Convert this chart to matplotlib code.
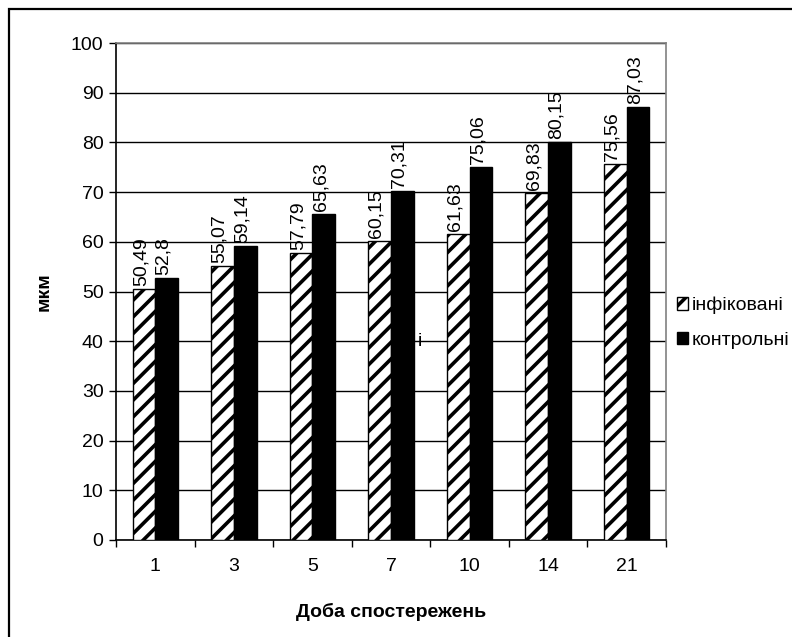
import matplotlib
matplotlib.use("Agg")
import matplotlib.pyplot as plt
import numpy as np
from matplotlib.patches import Rectangle

categories = ["1", "3", "5", "7", "10", "14", "21"]
infected = [50.49, 55.07, 57.79, 60.15, 61.63, 69.83, 75.56]
control = [52.8, 59.14, 65.63, 70.31, 75.06, 80.15, 87.03]
infected_labels = ["50,49", "55,07", "57,79", "60,15", "61,63", "69,83", "75,56"]
control_labels = ["52,8", "59,14", "65,63", "70,31", "75,06", "80,15", "87,03"]
series_names = ["інфіковані", "контрольні"]
y_ticks = list(range(0, 101, 10))

plt.rcParams['font.family'] = ['Liberation Sans', 'DejaVu Sans']
plt.rcParams['hatch.linewidth'] = 2.6

W, H = 792, 637
FS = 14
fig = plt.figure(figsize=(W/100, H/100), dpi=100)
ax = fig.add_axes([116/W, (H-540)/H, 550/W, 497/H])

x = np.arange(len(categories))
bw = 0.29
b1 = ax.bar(x - bw/2, infected, bw, color='white', edgecolor='black',
            hatch='//', linewidth=1.0, zorder=3, label=series_names[0])
b2 = ax.bar(x + bw/2, control, bw, color='black', edgecolor='black',
            linewidth=1.0, zorder=3, label=series_names[1])

for xi, v, s in zip(x - bw/2, infected, infected_labels):
    ax.text(xi - 0.04, v + 0.6, s, rotation=90, ha='center', va='bottom', fontsize=FS)
for xi, v, s in zip(x + bw/2, control, control_labels):
    ax.text(xi - 0.04, v + 0.6, s, rotation=90, ha='center', va='bottom', fontsize=FS)

ax.set_xlim(-0.5, len(categories) - 0.5)
ax.set_ylim(0, 100)
ax.set_yticks(y_ticks)
ax.set_yticklabels([str(t) for t in y_ticks], fontsize=FS)
ax.yaxis.grid(True, color='black', linewidth=1.0, zorder=0)
ax.set_axisbelow(True)

ax.set_xticks(x)
ax.set_xticklabels(categories, fontsize=FS)
ax.set_xticks(np.arange(-0.5, len(categories), 1.0), minor=True)
ax.tick_params(axis='x', which='major', length=0, pad=13)
ax.tick_params(axis='x', which='minor', length=5, width=1, direction='out')
ax.tick_params(axis='y', length=5, width=1, direction='out', pad=4)

for s in ['left', 'bottom']:
    ax.spines[s].set_color('black')
    ax.spines[s].set_linewidth(1.2)
for s in ['top', 'right']:
    ax.spines[s].set_color('#808080')
    ax.spines[s].set_linewidth(1.2)

ax.set_xlabel("Доба спостережень", fontsize=FS, fontweight='bold', labelpad=20)
ax.set_ylabel("мкм", fontsize=FS, fontweight='bold', labelpad=13)

leg = fig.legend(handles=[b1, b2], labels=series_names, loc='upper left',
                 bbox_to_anchor=(669/W, 1 - 289/H), frameon=False, fontsize=14,
                 handlelength=0.6, handleheight=0.6, handletextpad=0.15,
                 labelspacing=0.9, borderaxespad=0)

fig.text(420/W, 1 - 342/H, "і", fontsize=FS, ha='center', va='center')

fig.patches.append(Rectangle((9/W, -0.1), 1.2, 1 - 9/H + 0.1, transform=fig.transFigure,
                             fill=False, edgecolor='black', linewidth=1.6, zorder=10))

fig.savefig("out.png", dpi=100)
